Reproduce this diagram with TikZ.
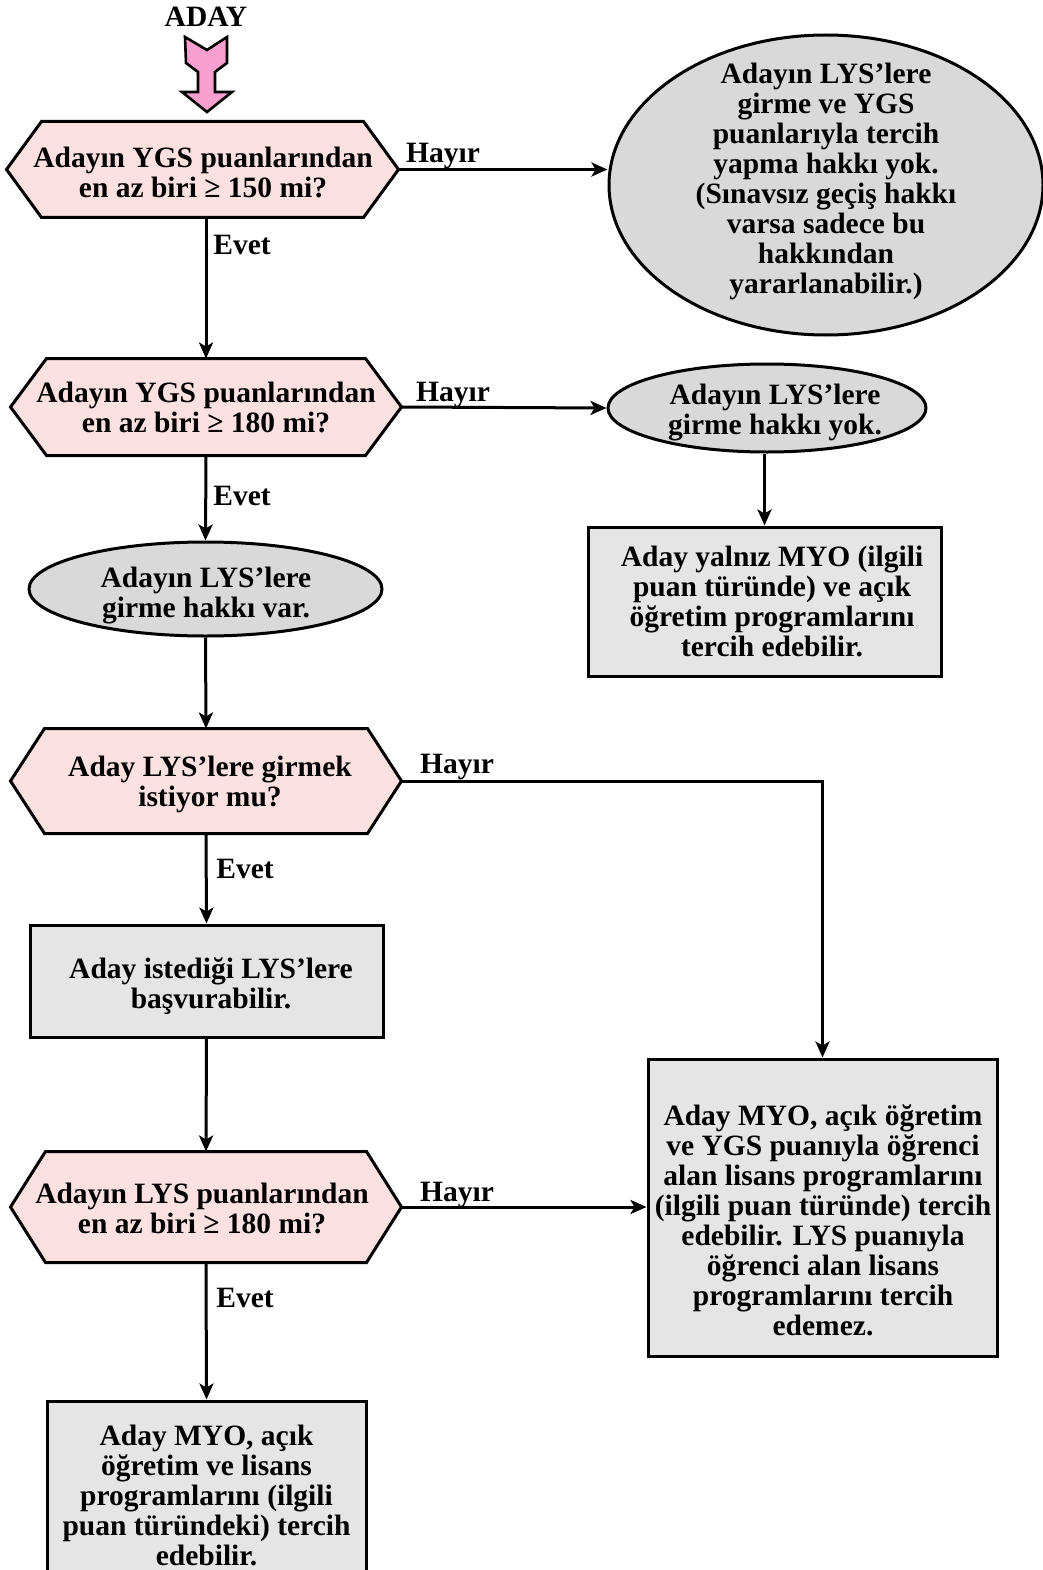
\documentclass[tikz,border=0pt]{standalone}
\usepackage{fontspec}
\setmainfont{Liberation Serif}
\usetikzlibrary{arrows.meta,shapes.geometric,backgrounds}
\definecolor{hexpink}{HTML}{FDE1E1}
\definecolor{boxgray}{HTML}{E5E5E5}
\definecolor{ellgray}{HTML}{D9D9D9}
\definecolor{arrpink}{HTML}{F7A0CF}
\newcommand\drawhex[2]{%
  \draw[hexshape] (#1.west) -- ([xshift=#2]#1.north west) -- ([xshift=-#2]#1.north east)
    -- (#1.east) -- ([xshift=-#2]#1.south east) -- ([xshift=#2]#1.south west) -- cycle;}
\begin{document}
\begin{tikzpicture}[x=1pt,y=-1pt,line width=3pt,
  every node/.style={font=\bfseries\fontsize{29.5}{30}\selectfont,align=center},
  hexnode/.style={inner sep=0pt},
  ellnode/.style={ellipse,draw,fill=ellgray,inner sep=0pt,line width=3pt},
  boxnode/.style={rectangle,draw,fill=boxgray,inner sep=0pt,line width=3pt},
  hexshape/.style={draw,fill=hexpink,line join=miter,line width=3pt},
  txt/.style={inner sep=0pt},
  conn/.style={-{Stealth[length=16pt,width=14pt,inset=4pt]},line width=3pt},
  lbl/.style={inner sep=0pt}
]
\useasboundingbox (0,0) rectangle (1043,1570);

% start
\node[lbl] (aday) at (206,17) {ADAY};
\draw[fill=arrpink,line width=2.6pt,line join=miter]
  (185,37) -- (207,50) -- (227,37) -- (227,63) -- (215,72) -- (215,92) -- (232,92)
  -- (207,112) -- (182,92) -- (198,92) -- (198,72) -- (186,63) -- cycle;

% decision nodes (outline drawn on background)
\node[hexnode,minimum width=389pt,minimum height=93pt] (hex1) at (202.5,169.5) {};
\node[hexnode,minimum width=388pt,minimum height=94pt] (hex2) at (206,407) {};
\node[hexnode,minimum width=388pt,minimum height=102pt] (hex3) at (206,781) {};
\node[hexnode,minimum width=388pt,minimum height=108pt] (hex4) at (206,1207) {};
\begin{pgfonlayer}{background}
  \drawhex{hex1}{35pt}
  \drawhex{hex2}{36pt}
  \drawhex{hex3}{34pt}
  \drawhex{hex4}{35pt}
\end{pgfonlayer}
\node[txt] (hex1t) at (203,172) {Adayın YGS puanlarından\\en az biri ≥ 150 mi?};
\node[txt] (hex2t) at (206,407) {Adayın YGS puanlarından\\en az biri ≥ 180 mi?};
\node[txt] (hex3t) at (210,784) {Aday LYS’lere girmek\\istiyor mu?};
\node[txt] (hex4t) at (202,1208) {Adayın LYS puanlarından\\en az biri ≥ 180 mi?};

% ellipses
\node[ellnode,minimum width=434pt,minimum height=300pt] (ell1) at (826,185) {};
\node[txt] (ell1t) at (826,181) {Adayın LYS’lere\\girme ve YGS\\puanlarıyla tercih\\yapma hakkı yok.\\(Sınavsız geçiş hakkı\\varsa sadece bu\\hakkından\\yararlanabilir.)};
\node[ellnode,minimum width=318pt,minimum height=88pt] (ell2) at (767,408) {};
\node[txt] (ell2t) at (775,413) {Adayın LYS’lere\\girme hakkı yok.};
\node[ellnode,minimum width=353pt,minimum height=94pt] (ell3) at (205.5,589) {};
\node[txt] (ell3t) at (206,596) {Adayın LYS’lere\\girme hakkı var.};

% boxes
\node[boxnode,minimum width=353pt,minimum height=149pt] (rect2) at (764.5,601.5) {};
\node[txt] (rect2t) at (772,601) {Aday yalnız MYO (ilgili\\puan türünde) ve açık\\öğretim programlarını\\tercih edebilir.};
\node[boxnode,minimum width=353pt,minimum height=112pt] (rect3) at (206.5,981) {};
\node[txt] (rect3t) at (211,986) {Aday istediği LYS’lere\\başvurabilir.};
\node[boxnode,minimum width=349pt,minimum height=297pt] (rect4) at (822.5,1207.5) {};
\node[txt] (rect4t) at (823,1220) {Aday MYO, açık öğretim\\ve YGS puanıyla öğrenci\\alan lisans programlarını\\(ilgili puan türünde) tercih\\edebilir. LYS puanıyla\\öğrenci alan lisans\\programlarını tercih\\edemez.};
\node[boxnode,minimum width=319pt,minimum height=188pt] (rect5) at (206.5,1495) {};
\node[txt] (rect5t) at (206.5,1495) {Aday MYO, açık\\öğretim ve lisans\\programlarını (ilgili\\puan türündeki) tercih\\edebilir.};

% connectors
\draw[conn] (hex1.east) -- (hex1.east -| ell1.west);
\draw[conn] (hex2.north |- hex1.south) -- (hex2.north);
\draw[conn] (hex2.east) -- (ell2.west);
\draw[conn] (ell2.south -| rect2.north) -- (rect2.north);
\draw[conn] (hex2.south) -- (ell3.north);
\draw[conn] (ell3.south) -- (hex3.north);
\draw[conn] (hex3.east) -| (rect4.north);
\draw[conn] (hex3.south) -- (rect3.north);
\draw[conn] (rect3.south) -- (hex4.north);
\draw[conn] (hex4.east) -- (hex4.east -| rect4.west);
\draw[conn] (hex4.south) -- (rect5.north);

% labels
\node[lbl] (h1) at (443,156) {Hayır};
\node[lbl] (e1) at (242,245) {Evet};
\node[lbl] (h2) at (453,395) {Hayır};
\node[lbl] (e2) at (242,496) {Evet};
\node[lbl] (h3) at (457,767) {Hayır};
\node[lbl] (e3) at (245,869) {Evet};
\node[lbl] (h4) at (457,1195) {Hayır};
\node[lbl] (e4) at (245,1298) {Evet};
\end{tikzpicture}
\end{document}
